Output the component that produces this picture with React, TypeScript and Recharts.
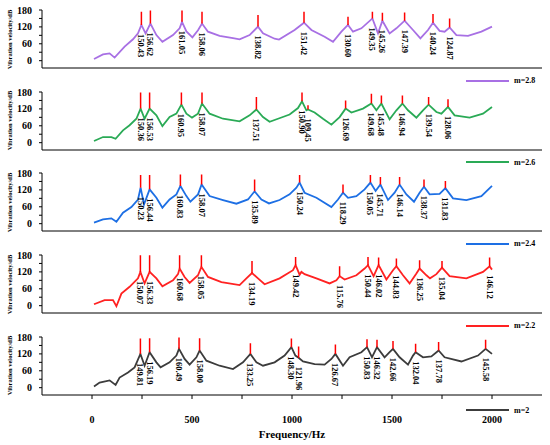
import React from 'react';
import { ComposedChart, Line, XAxis, YAxis } from 'recharts';

const xTicks = [0, 250, 500, 750, 1000, 1250, 1500, 1750, 2000];
const yTicks = [0, 30, 60, 90, 120, 150, 180];
const yTicksRight = [0, 60, 120];

// curve between resonances: [Hz, dB]
const curve28 = [
  [10, 6], [55, 22], [88, 26], [113, 11], [163, 50], [205, 76], [230, 97], [268, 97],
  [322, 91], [352, 67], [405, 91], [438, 115], [472, 104], [502, 83], [530, 108], [580, 103],
  [638, 88], [705, 80], [738, 76], [788, 91], [855, 97], [913, 78], [935, 75], [1013, 109],
  [1097, 109], [1163, 85], [1205, 67], [1247, 103], [1305, 103], [1347, 115], [1430, 97],
  [1488, 97], [1522, 115], [1605, 109], [1642, 79], [1680, 109], [1738, 106], [1763, 103],
  [1822, 91], [1880, 88], [1947, 103], [2000, 121],
];
// resonances: [Hz, curve dB, spike top dB, label]
const peaks28 = [
  [247, 127, 174, '150.43'], [292, 132, 178, '156.62'], [450, 138, 178, '161.05'],
  [550, 132, 174, '158.06'], [830, 121, 162, '138.82'], [1060, 135, 174, '151.42'],
  [1280, 127, 156, '130.60'], [1402, 150, 174, '149.35'], [1452, 142, 170, '145.26'],
  [1563, 142, 171, '147.39'], [1705, 135, 166, '140.24'], [1788, 118, 150, '124.87'],
];

const curve26 = [
  [10, 6], [55, 20], [97, 20], [118, 14], [155, 44], [188, 62], [222, 85], [263, 85],
  [322, 97], [352, 59], [388, 91], [422, 103], [472, 103], [500, 89], [530, 103], [588, 103],
  [655, 85], [738, 76], [788, 97], [855, 91], [888, 74], [930, 85], [988, 100], [1030, 123],
  [1072, 115], [1113, 107], [1155, 85], [1197, 64], [1238, 91], [1297, 107], [1355, 121],
  [1422, 115], [1488, 83], [1522, 115], [1580, 115], [1622, 89], [1655, 115], [1722, 109],
  [1747, 103], [1813, 97], [1888, 89], [1955, 103], [2000, 127],
];
const peaks26 = [
  [243, 121, 178, '150.36'], [288, 121, 178, '156.53'], [447, 135, 178, '160.95'],
  [550, 139, 178, '158.07'], [822, 118, 162, '137.51'], [1050, 147, 178, '150.90'],
  [1080, 118, 133, '109.45'], [1268, 121, 150, '126.69'], [1397, 139, 174, '149.68'],
  [1447, 139, 168, '145.48'], [1552, 139, 168, '146.94'], [1683, 135, 162, '139.54'],
  [1780, 127, 154, '128.06'],
];

const curve24 = [
  [10, 4], [55, 15], [97, 19], [122, 7], [155, 39], [197, 59], [230, 86], [260, 68],
  [322, 92], [352, 57], [388, 86], [422, 104], [472, 98], [492, 78], [530, 104], [588, 98],
  [655, 84], [722, 71], [780, 86], [847, 86], [885, 72], [938, 84], [988, 104], [1022, 128],
  [1063, 110], [1122, 92], [1197, 59], [1230, 86], [1280, 92], [1322, 98], [1363, 122],
  [1418, 116], [1480, 84], [1513, 110], [1572, 104], [1610, 78], [1638, 110], [1688, 104],
  [1738, 106], [1805, 90], [1872, 84], [1947, 98], [2000, 134],
];
const peaks24 = [
  [243, 128, 173, '150.23'], [288, 122, 173, '156.44'], [442, 134, 175, '160.83'],
  [548, 139, 175, '158.07'], [813, 115, 157, '135.89'], [1038, 146, 173, '150.24'],
  [1255, 110, 139, '118.29'], [1392, 146, 173, '150.05'], [1442, 139, 166, '145.71'],
  [1538, 139, 166, '146.14'], [1660, 131, 157, '138.37'], [1767, 126, 152, '131.83'],
];

const curve22 = [
  [10, 5], [63, 20], [105, 20], [122, -2], [147, 43], [188, 67], [230, 97], [263, 79],
  [322, 97], [352, 69], [405, 90], [430, 112], [463, 102], [488, 81], [530, 108], [580, 102],
  [647, 84], [738, 73], [772, 97], [830, 97], [863, 76], [938, 97], [1005, 126], [1038, 110],
  [1047, 120], [1063, 112], [1122, 97], [1188, 79], [1222, 90], [1263, 93], [1322, 108],
  [1363, 132], [1408, 105], [1472, 93], [1505, 126], [1555, 108], [1588, 79], [1622, 114],
  [1672, 108], [1690, 97], [1722, 112], [1788, 105], [1872, 97], [1955, 120], [2000, 128],
];
const peaks22 = [
  [242, 120, 179, '150.07'], [288, 120, 179, '156.33'], [438, 132, 179, '160.68'],
  [547, 138, 179, '158.05'], [800, 116, 159, '134.19'], [1018, 144, 173, '149.42'],
  [1238, 105, 140, '115.76'], [1380, 144, 173, '150.44'], [1433, 144, 171, '146.02'],
  [1522, 140, 168, '144.83'], [1638, 132, 161, '136.25'], [1750, 135, 159, '135.04'],
  [1988, 140, 171, '146.12'],
];

const curve20 = [
  [10, 4], [38, 18], [88, 26], [118, 10], [138, 36], [180, 54], [213, 72], [263, 78],
  [322, 90], [343, 72], [388, 90], [422, 114], [463, 102], [488, 82], [522, 108], [572, 96],
  [638, 78], [705, 66], [755, 90], [822, 90], [855, 78], [913, 90], [963, 114], [1017, 114],
  [1055, 93], [1113, 84], [1163, 82], [1197, 102], [1255, 78], [1288, 108], [1347, 126],
  [1400, 108], [1463, 108], [1488, 126], [1538, 108], [1580, 82], [1605, 114], [1655, 108],
  [1697, 111], [1763, 108], [1847, 93], [1930, 114], [2000, 120],
];
const peaks20 = [
  [242, 120, 175, '149.81'], [288, 126, 176, '156.19'], [435, 138, 178, '160.49'],
  [538, 132, 176, '158.00'], [792, 120, 158, '133.25'], [997, 144, 175, '148.30'],
  [1033, 106, 146, '121.96'], [1217, 120, 153, '126.67'], [1375, 144, 172, '150.83'],
  [1425, 144, 170, '146.32'], [1505, 138, 166, '142.66'], [1618, 126, 156, '132.04'],
  [1733, 132, 162, '137.78'], [1968, 138, 170, '145.58'],
];

const panels = [
  { name: 'm=2.8', color: '#a870e4', curve: curve28, peaks: peaks28 },
  { name: 'm=2.6', color: '#2aaa56', curve: curve26, peaks: peaks26 },
  { name: 'm=2.4', color: '#1d6fe4', curve: curve24, peaks: peaks24 },
  { name: 'm=2.2', color: '#ff2222', curve: curve22, peaks: peaks22 },
  { name: 'm=2', color: '#3c3c3c', curve: curve20, peaks: peaks20 },
];

const panelTops = [10, 91.7, 173.3, 255, 336.7];
const font = '"Liberation Serif", "Times New Roman", serif';

function buildCurve(curve: any[], peaks: any[]) {
  const pts = curve.map(([f, v]) => ({ f, v })).concat(peaks.map(([f, c]) => ({ f, v: c })));
  return pts.sort((a, b) => a.f - b.f);
}

function buildSpikes(peaks: any[]) {
  const out: any[] = [];
  peaks.forEach(([f, c, t]) => {
    out.push({ f, s: c }, { f, s: t }, { f, s: null });
  });
  return out;
}

function PeakLabel(props: any) {
  const { cx, cy, payload, index } = props;
  if (cx == null || cy == null) return <g key={index} />;
  const y = cy + 9;
  return (
    <text
      key={index}
      x={cx}
      y={y}
      transform={`rotate(90 ${cx} ${y})`}
      dominantBaseline="central"
      fontFamily={font}
      fontWeight="bold"
      fontSize={8.5}
      fill="#000"
    >
      {payload.label}
    </text>
  );
}

function Panel({ p, top, last }: any) {
  const curve = buildCurve(p.curve, p.peaks);
  const spikes = buildSpikes(p.peaks);
  const labels = p.peaks.map(([f, c, , label]: any) => ({ f, v: c, label }));
  const axisFont = { fontFamily: font, fontWeight: 'bold', fontSize: 10, fill: '#000' };

  return (
    <div style={{ position: 'absolute', left: 0, top: top - 5 }}>
      <ComposedChart width={550} height={93} margin={{ top: 5, right: 8, left: 0, bottom: 0 }}>
        <XAxis
          type="number"
          dataKey="f"
          domain={[-250, 2250]}
          ticks={xTicks}
          interval={0}
          allowDataOverflow
          stroke="#000"
          tickSize={4}
          tickMargin={17}
          height={30}
          tick={last ? axisFont : false}
          tickFormatter={(v: number) => (v % 500 === 0 ? String(v) : '')}
        />
        <XAxis
          xAxisId="top"
          orientation="top"
          type="number"
          domain={[-250, 2250]}
          ticks={xTicks}
          interval={0}
          allowDataOverflow
          stroke="#000"
          mirror
          tickSize={5}
          height={0}
          tick={false}
        />
        <YAxis
          type="number"
          domain={[-26, 180]}
          ticks={yTicks}
          interval={0}
          allowDataOverflow
          width={42}
          stroke="#000"
          tickSize={3}
          tickMargin={7}
          tick={axisFont}
          tickFormatter={(v: number) => (v % 60 === 0 ? String(v) : '')}
        />
        <YAxis
          yAxisId="right"
          orientation="right"
          type="number"
          domain={[-26, 180]}
          ticks={yTicksRight}
          interval={0}
          allowDataOverflow
          width={0}
          mirror
          stroke="#000"
          tickSize={4}
          tick={false}
        />
        <Line
          data={curve}
          dataKey="v"
          type="linear"
          stroke={p.color}
          strokeWidth={1.8}
          dot={false}
          isAnimationActive={false}
        />
        <Line
          data={spikes}
          dataKey="s"
          type="linear"
          stroke="#ff0000"
          strokeWidth={1.5}
          dot={false}
          connectNulls={false}
          isAnimationActive={false}
        />
        <Line
          data={labels}
          dataKey="v"
          stroke="none"
          dot={PeakLabel}
          activeDot={false}
          isAnimationActive={false}
        />
      </ComposedChart>
      <div
        style={{
          position: 'absolute',
          left: 0,
          top: 5,
          width: 20,
          height: 58,
          display: 'flex',
          alignItems: 'center',
          justifyContent: 'center',
        }}
      >
        <div
          style={{
            transform: 'rotate(-90deg)',
            whiteSpace: 'nowrap',
            fontFamily: font,
            fontWeight: 'bold',
            fontSize: 6.5,
          }}
        >
          Vibration velocity/dB
        </div>
      </div>
      <div
        style={{
          position: 'absolute',
          left: 466,
          top: last ? 74 : 71,
          display: 'flex',
          alignItems: 'center',
          fontFamily: font,
          fontWeight: 'bold',
          fontSize: 8,
        }}
      >
        <div style={{ width: 43, height: 2, background: p.color, marginRight: 5 }} />
        <span>{p.name}</span>
      </div>
    </div>
  );
}

export default function App() {
  return (
    <div style={{ position: 'absolute', left: 0, top: 0, width: 550, height: 445, background: '#fff' }}>
      {panels.map((p, i) => (
        <Panel key={p.name} p={p} top={panelTops[i]} last={i === panels.length - 1} />
      ))}
      <div
        style={{
          position: 'absolute',
          left: 0,
          top: 428,
          width: 584,
          textAlign: 'center',
          fontFamily: font,
          fontWeight: 'bold',
          fontSize: 11,
        }}
      >
        Frequency/Hz
      </div>
    </div>
  );
}
